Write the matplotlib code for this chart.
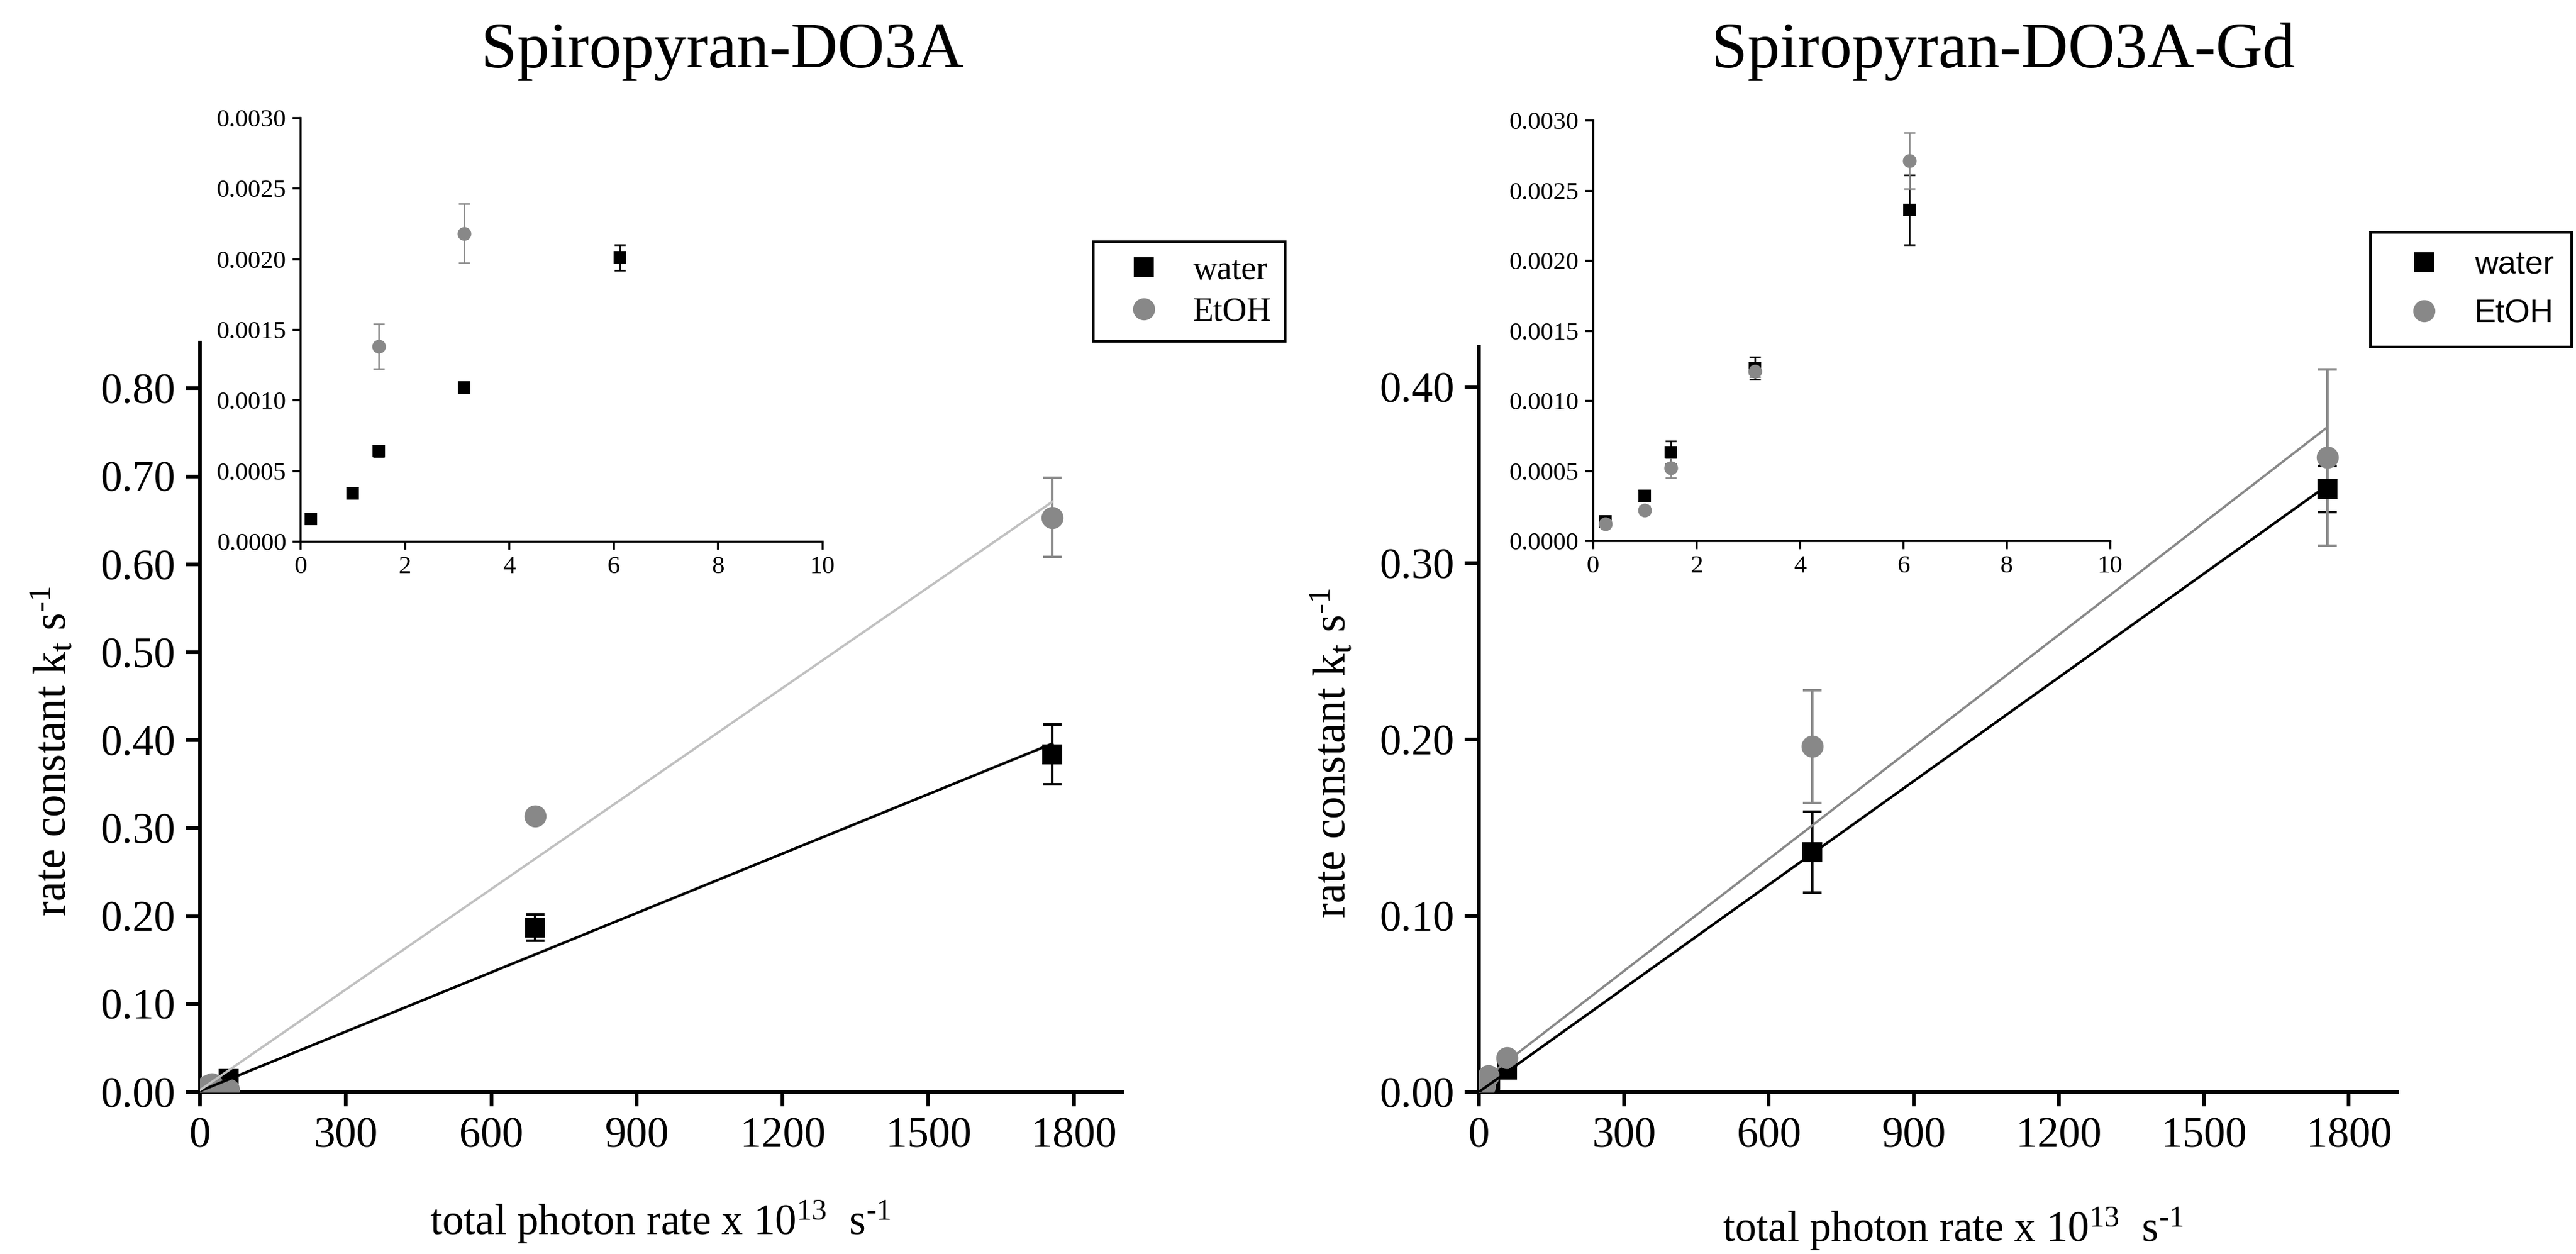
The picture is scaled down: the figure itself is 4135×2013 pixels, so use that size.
import matplotlib
matplotlib.use("Agg")
import matplotlib.pyplot as plt
from matplotlib.lines import Line2D
import numpy as np

plt.rcParams['font.family'] = 'Liberation Serif'
plt.rcParams['mathtext.fontset'] = 'custom'
plt.rcParams['mathtext.rm'] = 'Liberation Serif'
plt.rcParams['mathtext.it'] = 'Liberation Serif:italic'

GREY = '#888888'

# ---- Spiropyran-DO3A (left) ----
l_x = [15, 25, 59, 690, 1755]
l_water = [0.002, 0.004, 0.015, 0.187, 0.384]
l_water_err = [0.001, 0.001, 0.002, 0.015, 0.034]
l_etoh = [0.007, 0.009, 0.003, 0.314, 0.653]
l_etoh_err = [0.001, 0.001, 0.002, 0.0, 0.045]
l_fit_x = [0, 1755]
l_fit_water = [0.001, 0.396]
l_fit_etoh = [0.002, 0.671]

# inset
li_water_x = [0.2, 1.0, 1.5, 3.14, 6.12]
li_water = [0.00016, 0.00034, 0.00064, 0.00109, 0.00201]
li_water_err = [0.00001, 0.00001, 0.00004, 0.00001, 0.00009]
li_etoh_x = [1.5, 3.14]
li_etoh = [0.00138, 0.00218]
li_etoh_err = [0.00016, 0.00021]

# ---- Spiropyran-DO3A-Gd (right) ----
r_water_x = [12, 23, 58, 690, 1755]
r_water = [0.002, 0.004, 0.0127, 0.136, 0.342]
r_water_err = [0.001, 0.001, 0.002, 0.023, 0.013]
r_etoh_x = [12, 19, 58, 690, 1755]
r_etoh = [0.003, 0.009, 0.0194, 0.196, 0.360]
r_etoh_err = [0.001, 0.001, 0.002, 0.032, 0.050]
r_fit_x = [0, 1755]
r_fit_water = [0.0, 0.344]
r_fit_etoh = [0.005, 0.377]

# inset
ri_x = [0.24, 1.0, 1.5, 3.13, 6.12]
ri_water = [0.00014, 0.00032, 0.00063, 0.00123, 0.00236]
ri_water_err = [0.00002, 0.00002, 0.00008, 0.00008, 0.00025]
ri_etoh = [0.00012, 0.00022, 0.00052, 0.00121, 0.00271]
ri_etoh_err = [0.00002, 0.00003, 0.00007, 0.00004, 0.00020]

main_xticks = [0, 300, 600, 900, 1200, 1500, 1800]
inset_xticks = [0, 2, 4, 6, 8, 10]
inset_yticks = [0.0, 0.0005, 0.001, 0.0015, 0.002, 0.0025, 0.003]
series_names = ['water', 'EtOH']

xlabel = r'total photon rate x 10$^\mathregular{13}$  s$^\mathregular{\text{-}1}$'
ylabel = r'rate constant k$_\mathregular{t}$ s$^\mathregular{\text{-}1}$'

fig = plt.figure(figsize=(4135 / 300, 2013 / 300), dpi=300)


def style(ax, lw, tlen, tw, fs, pad):
    for s in ['top', 'right']:
        ax.spines[s].set_visible(False)
    for s in ['left', 'bottom']:
        ax.spines[s].set_linewidth(lw)
    ax.tick_params(direction='out', length=tlen, width=tw, labelsize=fs, pad=pad)
    ax.patch.set_alpha(0)


def main_panel(rect, wx, wy, we, ex, ey, ee, fx, fw, fe, fit_grey, ymax, yticks):
    ax = fig.add_axes(rect)
    ax.errorbar(wx, wy, yerr=we, fmt='s', color='black', ms=6.5, capsize=3.5,
                elinewidth=1, capthick=1, zorder=3)
    ax.errorbar(ex, ey, yerr=ee, fmt='o', color=GREY, ms=7.5, capsize=3.5,
                elinewidth=1, capthick=1, zorder=3)
    ax.plot(fx, fw, color='black', lw=1.0, zorder=4)
    ax.plot(fx, fe, color=fit_grey, lw=0.9, zorder=4)
    ax.set_xlim(0, 1900)
    ax.set_ylim(0, ymax)
    ax.set_xticks(main_xticks)
    ax.set_yticks(yticks)
    ax.set_yticklabels(['%.2f' % v for v in yticks])
    style(ax, 1.4, 5.5, 1.4, 16.5, 4)
    ax.set_ylabel(ylabel, fontsize=17.5)
    ax.yaxis.set_label_coords(-0.135, 0.455)
    return ax


def inset_panel(rect, wx, wy, we, ex, ey, ee):
    ax = fig.add_axes(rect)
    ax.errorbar(wx, wy, yerr=we, fmt='s', color='black', ms=4, capsize=2.2,
                elinewidth=0.6, capthick=0.6)
    ax.errorbar(ex, ey, yerr=ee, fmt='o', color=GREY, ms=4.3, capsize=2.2,
                elinewidth=0.6, capthick=0.6)
    ax.set_xlim(0, 10)
    ax.set_ylim(0, 0.003)
    ax.set_xticks(inset_xticks)
    ax.set_yticks(inset_yticks)
    ax.set_yticklabels(['%.4f' % v for v in inset_yticks])
    style(ax, 0.8, 3.2, 0.8, 9.8, 2.2)
    return ax


axl = main_panel([0.0776, 0.1292, 0.3582, 0.5976],
                 l_x, l_water, l_water_err, l_x, l_etoh, l_etoh_err,
                 l_fit_x, l_fit_water, l_fit_etoh, '#c0c0c0',
                 0.852, [0.0, 0.1, 0.2, 0.3, 0.4, 0.5, 0.6, 0.7, 0.8])
axr = main_panel([0.5741, 0.1292, 0.3565, 0.5941],
                 r_water_x, r_water, r_water_err, r_etoh_x, r_etoh, r_etoh_err,
                 r_fit_x, r_fit_water, r_fit_etoh, GREY,
                 0.4226, [0.0, 0.1, 0.2, 0.3, 0.4])

inset_panel([0.1166, 0.5683, 0.2026, 0.3378],
            li_water_x, li_water, li_water_err, li_etoh_x, li_etoh, li_etoh_err)
inset_panel([0.6184, 0.5688, 0.2007, 0.3353],
            ri_x, ri_water, ri_water_err, ri_x, ri_etoh, ri_etoh_err)

# legends: markers only
handles = [Line2D([], [], ls='none', marker='s', color='black', ms=6.5),
           Line2D([], [], ls='none', marker='o', color=GREY, ms=7.5)]
legl = axl.legend(handles, series_names, loc='upper left',
                  bbox_to_anchor=(0.4244, 0.8073),
                  bbox_transform=fig.transFigure, borderaxespad=0,
                  fancybox=False, framealpha=1, edgecolor='black',
                  prop={'family': 'Liberation Serif', 'size': 13},
                  handlelength=2.2, handletextpad=0.35, borderpad=0.4,
                  labelspacing=0.3)
legl.get_frame().set_linewidth(1.0)
legr = axr.legend(handles, series_names, loc='upper left',
                  bbox_to_anchor=(0.9202, 0.8147),
                  bbox_transform=fig.transFigure, borderaxespad=0,
                  fancybox=False, framealpha=1, edgecolor='black',
                  prop={'family': 'Liberation Sans', 'size': 12.5},
                  handlelength=2.2, handletextpad=0.45, borderpad=0.55,
                  labelspacing=0.55)
legr.get_frame().set_linewidth(1.0)

# titles and x labels
fig.text(0.2803, 0.9463, 'Spiropyran-DO3A', fontsize=25, ha='center', va='baseline')
fig.text(0.7777, 0.9463, 'Spiropyran-DO3A-Gd', fontsize=25, ha='center', va='baseline')
fig.text(0.2563, 0.0154, xlabel, fontsize=16.5, ha='center', va='baseline')
fig.text(0.7580, 0.0099, xlabel, fontsize=16.5, ha='center', va='baseline')

fig.savefig('out.png', dpi=300)
